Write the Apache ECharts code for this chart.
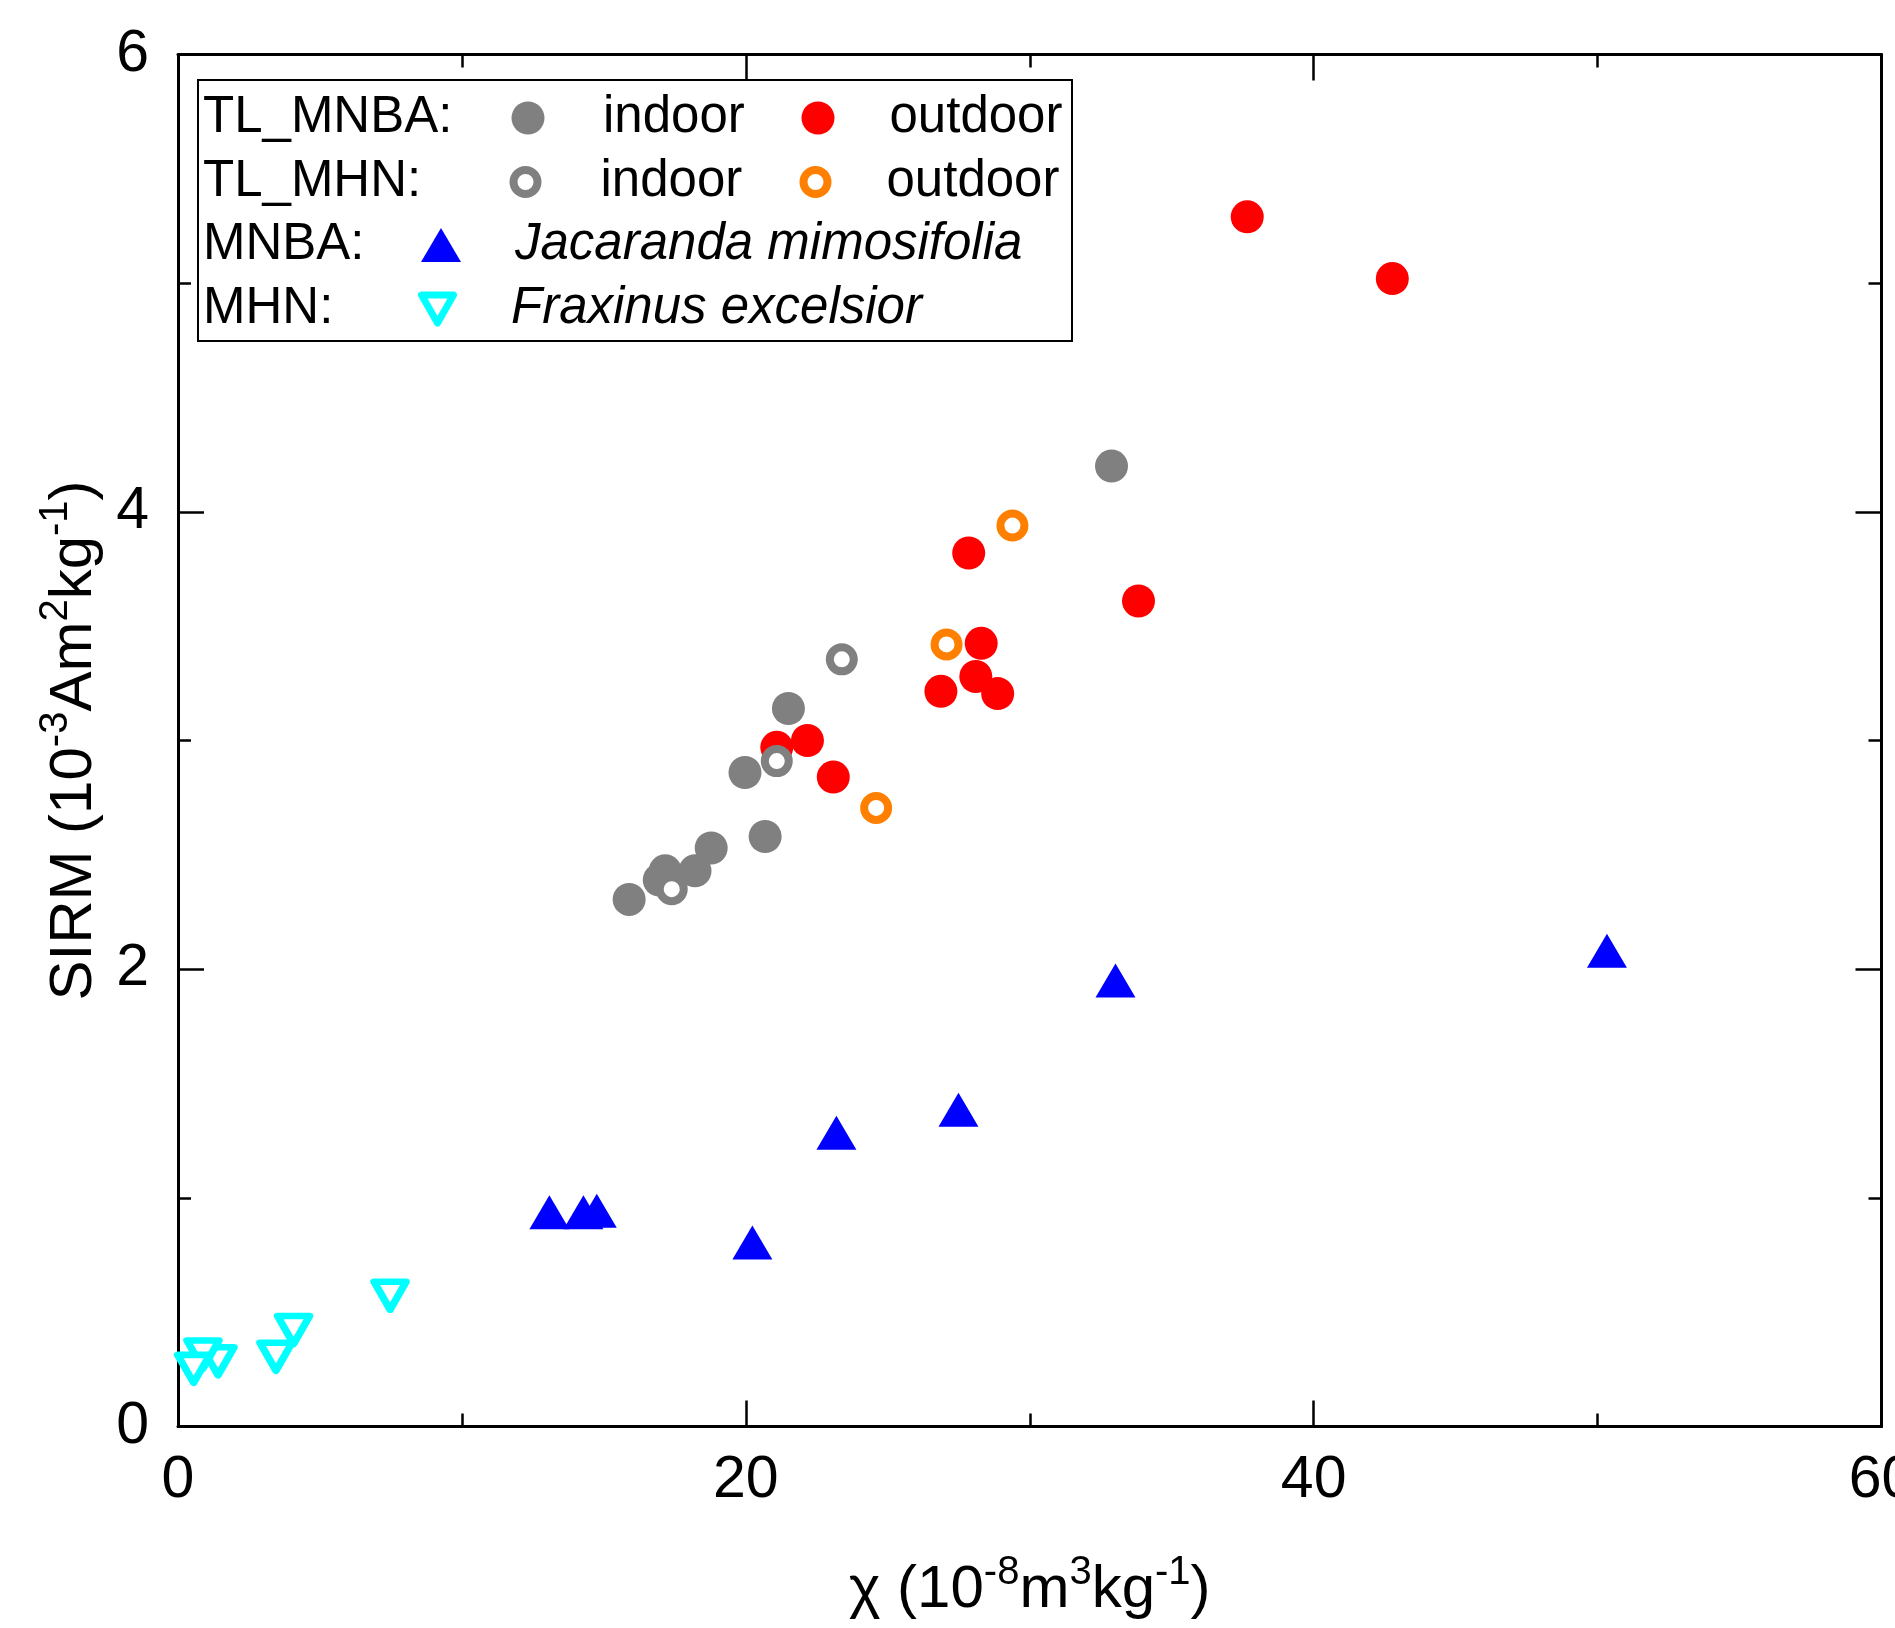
<!DOCTYPE html>
<html>
<head>
<meta charset="utf-8">
<title>SIRM vs susceptibility</title>
<script src="https://cdn.jsdelivr.net/npm/echarts@6.0.0/dist/echarts.min.js"></script>
<style>
html, body { margin: 0; padding: 0; background: #fff; }
#chart { width: 1895px; height: 1628px; }
</style>
</head>
<body>
<div id="chart"></div>
<script>
// axis ticks
var xTicks = [0, 20, 40, 60];
var yTicks = [0, 2, 4, 6];

// [chi, SIRM]
var mnbaIndoor = [[32.88, 4.20], [21.5, 3.14], [19.97, 2.86], [20.68, 2.58], [18.78, 2.53],
                  [18.21, 2.43], [17.16, 2.43], [16.95, 2.39], [15.89, 2.305]];
var mnbaOutdoor = [[37.66, 5.29], [42.77, 5.02], [27.85, 3.82], [33.83, 3.61], [28.29, 3.425],
                   [28.1, 3.28], [26.87, 3.215], [28.87, 3.205], [22.17, 3.0], [21.09, 2.97], [23.08, 2.84]];
var mhnIndoor = [[23.38, 3.355], [21.09, 2.91], [17.39, 2.35]];
var mhnOutdoor = [[29.39, 3.94], [27.07, 3.42], [24.59, 2.705]];
var jacaranda = [[50.33, 2.08], [33.02, 1.95], [27.49, 1.385], [23.19, 1.285], [20.23, 0.805],
                 [13.08, 0.937], [14.28, 0.937], [14.75, 0.944]];
var fraxinus = [[7.47, 0.572], [4.07, 0.422], [3.45, 0.305], [1.41, 0.285], [0.88, 0.315], [0.55, 0.252]];

var FONT = "'Liberation Sans', Arial, sans-serif";
var UP = 'path://M20,0 L40,34 L0,34 Z';
var DOWN = 'path://M0,0 L32,0 L16,28 Z';

var chart = echarts.init(document.getElementById('chart'));

function makeAxis(pos, ticks, showLabel) {
    return {
        type: 'value',
        position: pos,
        min: ticks[0],
        max: ticks[ticks.length - 1],
        interval: ticks[1] - ticks[0],
        axisLine: { show: true, onZero: false, lineStyle: { color: '#000', width: 3 } },
        axisTick: { show: true, inside: true, length: 26, lineStyle: { color: '#000', width: 2.5 } },
        minorTick: { show: true, splitNumber: 2, length: 13, lineStyle: { color: '#000', width: 2.5 } },
        splitLine: { show: false },
        axisLabel: {
            show: showLabel,
            fontFamily: FONT,
            fontSize: 59,
            color: '#000',
            margin: pos === 'bottom' ? 25 : 29
        }
    };
}

var nameStyle = {
    fontFamily: FONT,
    fontSize: 60,
    lineHeight: 76,
    color: '#000',
    rich: {
        sup: { fontFamily: FONT, fontSize: 40, lineHeight: 40, verticalAlign: 'top', color: '#000' }
    }
};

var xBottom = makeAxis('bottom', xTicks, true);
xBottom.name = 'χ (10{sup|-8}m{sup|3}kg{sup|-1})';
xBottom.nameLocation = 'middle';
xBottom.nameGap = 126;
xBottom.nameMoveOverlap = false;
xBottom.nameTextStyle = nameStyle;

var yLeft = makeAxis('left', yTicks, true);
yLeft.name = 'SIRM (10{sup|-3}Am{sup|2}kg{sup|-1})';
yLeft.nameLocation = 'middle';
yLeft.nameGap = 66;
yLeft.nameMoveOverlap = false;
yLeft.nameTextStyle = nameStyle;

// left = left edge of the marker; text follows itemWidth + 5 after the box
function legendItem(name, left, rowY, w, h, italic, border) {
    var lg = {
        data: [name],
        left: left,
        top: rowY - 26,
        padding: 0,
        itemWidth: w,
        itemHeight: h,
        selectedMode: false,
        formatter: function (n) { return n.split(': ')[1]; },
        textStyle: {
            fontFamily: FONT, fontSize: 51, lineHeight: 52, color: '#000',
            fontStyle: italic ? 'italic' : 'normal'
        }
    };
    if (border) {
        lg.itemStyle = { borderWidth: border };
    }
    return lg;
}

function prefix(text, y) {
    return {
        type: 'text',
        x: 203,
        y: y,
        style: { text: text, fontFamily: FONT, fontSize: 51, fill: '#000', verticalAlign: 'middle' }
    };
}

var option = {
    backgroundColor: '#fff',
    animation: false,
    grid: { left: 178, right: 13.5, top: 54.5, bottom: 201.5, outerBoundsMode: 'none' },
    xAxis: [xBottom, makeAxis('top', xTicks, false)],
    yAxis: [yLeft, makeAxis('right', yTicks, false)],
    legend: [
        legendItem('TL_MNBA: indoor', 511.5, 118, 140, 33),
        legendItem('TL_MNBA: outdoor', 801.5, 118, 133, 33),
        legendItem('TL_MHN: indoor', 509.5, 182, 140, 24, false, 8),
        legendItem('TL_MHN: outdoor', 799.5, 182, 132, 24, false, 8),
        legendItem('MNBA: Jacaranda mimosifolia', 421, 245, 138, 34, true),
        legendItem('MHN: Fraxinus excelsior', 418, 309, 137, 28, true, 7)
    ],
    graphic: [
        { type: 'rect', shape: { x: 198, y: 80, width: 874, height: 261 },
          style: { fill: 'none', stroke: '#000', lineWidth: 2 } },
        prefix('TL_MNBA:', 118),
        prefix('TL_MHN:', 182),
        prefix('MNBA:', 245),
        prefix('MHN:', 309)
    ],
    series: [
        {
            name: 'TL_MNBA: indoor', type: 'scatter', data: mnbaIndoor,
            symbol: 'circle', symbolSize: 33,
            itemStyle: { color: '#808080', opacity: 1 }
        },
        {
            name: 'TL_MNBA: outdoor', type: 'scatter', data: mnbaOutdoor,
            symbol: 'circle', symbolSize: 33,
            itemStyle: { color: '#ff0000', opacity: 1 }
        },
        {
            name: 'TL_MHN: indoor', type: 'scatter', data: mhnIndoor,
            symbol: 'circle', symbolSize: 24,
            itemStyle: { color: '#fff', borderColor: '#808080', borderWidth: 8, opacity: 1 }
        },
        {
            name: 'TL_MHN: outdoor', type: 'scatter', data: mhnOutdoor,
            symbol: 'circle', symbolSize: 24,
            itemStyle: { color: '#fff', borderColor: '#ff8000', borderWidth: 8, opacity: 1 }
        },
        {
            name: 'MNBA: Jacaranda mimosifolia', type: 'scatter', data: jacaranda,
            symbol: UP, symbolSize: [40, 34],
            itemStyle: { color: '#0000ff', opacity: 1 }
        },
        {
            name: 'MHN: Fraxinus excelsior', type: 'scatter', data: fraxinus,
            symbol: DOWN, symbolSize: [32, 28],
            itemStyle: { color: '#fff', borderColor: '#00ffff', borderWidth: 7, borderJoin: 'round', opacity: 1 }
        }
    ]
};

chart.setOption(option);
</script>
</body>
</html>
